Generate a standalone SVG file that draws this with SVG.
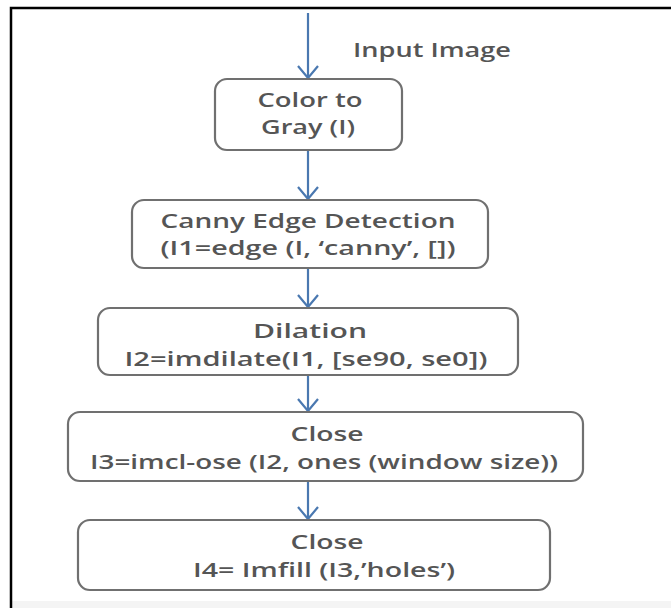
<svg xmlns="http://www.w3.org/2000/svg" width="671" height="608" viewBox="0 0 671 608">
  <defs>
    <marker id="arr" viewBox="0 0 14 22" refX="13" refY="11" markerWidth="14" markerHeight="22" markerUnits="userSpaceOnUse" orient="auto">
      <path d="M1,1 L13,11 L1,21" fill="none" stroke="#4a78b0" stroke-width="2.2"/>
    </marker>
    <style>
      .box { fill: #ffffff; stroke: #707070; stroke-width: 2.2; }
      .t { font-family: "Open Sans", "Noto Sans", "Liberation Sans", sans-serif; font-size: 20px; font-weight: 600; fill: #555555; text-anchor: middle; }
      .lbl { font-family: "Open Sans", "Noto Sans", "Liberation Sans", sans-serif; font-size: 20px; font-weight: 600; fill: #555555; }
      .conn { stroke: #4a78b0; stroke-width: 2.2; fill: none; marker-end: url(#arr); }
    </style>
  </defs>
  <rect x="0" y="0" width="671" height="608" fill="#ffffff"/>
  <rect x="12" y="601" width="659" height="7" fill="#f4f4f4"/>
  <path d="M11,608 V8 H671" fill="none" stroke="#000000" stroke-width="2.5"/>

  <g id="connectors">
    <line class="conn" x1="308" y1="13" x2="308" y2="78"/>
    <line class="conn" x1="308" y1="150" x2="308" y2="199"/>
    <line class="conn" x1="308" y1="268" x2="308" y2="307"/>
    <line class="conn" x1="308" y1="375" x2="308" y2="411"/>
    <line class="conn" x1="308" y1="481" x2="308" y2="519"/>
  </g>

  <g id="input-label">
    <text class="lbl" x="353" y="57" textLength="158" lengthAdjust="spacingAndGlyphs">Input Image</text>
  </g>

  <g id="color-to-gray">
    <rect class="box" x="215" y="79" width="187" height="71" rx="12"/>
    <text class="t" x="310" y="107" textLength="105" lengthAdjust="spacingAndGlyphs">Color to</text>
    <text class="t" x="308" y="134" textLength="94" lengthAdjust="spacingAndGlyphs">Gray (I)</text>
  </g>

  <g id="canny">
    <rect class="box" x="132" y="200" width="356" height="68" rx="12"/>
    <text class="t" x="308" y="228" textLength="295" lengthAdjust="spacingAndGlyphs">Canny Edge Detection</text>
    <text class="t" x="308" y="255" textLength="295" lengthAdjust="spacingAndGlyphs">(I1=edge (I, ‘canny’, [])</text>
  </g>

  <g id="dilation">
    <rect class="box" x="98" y="308" width="420" height="67" rx="12"/>
    <text class="t" x="310" y="338" textLength="114" lengthAdjust="spacingAndGlyphs">Dilation</text>
    <text class="t" x="306" y="366" textLength="363" lengthAdjust="spacingAndGlyphs">I2=imdilate(I1, [se90, se0])</text>
  </g>

  <g id="close1">
    <rect class="box" x="68" y="412" width="515" height="69" rx="12"/>
    <text class="t" x="327" y="441" textLength="73" lengthAdjust="spacingAndGlyphs">Close</text>
    <text class="t" x="324" y="469" textLength="468" lengthAdjust="spacingAndGlyphs">I3=imcl-ose (I2, ones (window size))</text>
  </g>

  <g id="close2">
    <rect class="box" x="78" y="520" width="472" height="70" rx="12"/>
    <text class="t" x="327" y="549" textLength="73" lengthAdjust="spacingAndGlyphs">Close</text>
    <text class="t" x="324" y="577" textLength="262" lengthAdjust="spacingAndGlyphs">I4= Imfill (I3,’holes’)</text>
  </g>
</svg>
